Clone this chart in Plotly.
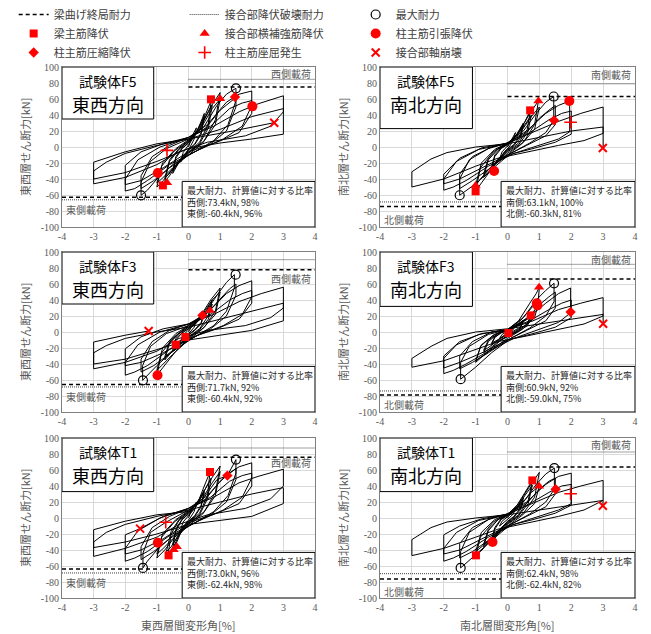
import plotly.graph_objects as go

# ------------------------------------------------------------------ data
PANEL_KEYS = ["F5_EW", "F5_NS", "F3_EW", "F3_NS", "T1_EW", "T1_NS"]
SPECIMEN = ["試験体F5", "試験体F5", "試験体F3", "試験体F3", "試験体T1", "試験体T1"]
DIRECTION = ["東西方向", "南北方向", "東西方向", "南北方向", "東西方向", "南北方向"]
Y_TITLES = ["東西層せん断力[kN]", "南北層せん断力[kN]"]
X_TITLES = ["東西層間変形角[%]", "南北層間変形角[%]"]
POS_SIDE = ["西側", "南側", "西側", "南側", "西側", "南側"]
NEG_SIDE = ["東側", "北側", "東側", "北側", "東側", "北側"]
BOX_TITLE = "最大耐力、計算値に対する比率"

X_TICKS = [-4, -3, -2, -1, 0, 1, 2, 3, 4]
Y_TICKS = [-100, -80, -60, -40, -20, 0, 20, 40, 60, 80, 100]

BEAM_CAP_POS = [74.9, 63.1, 77.9, 66.2, 76.0, 63.7]
BEAM_CAP_NEG = [-62.9, -74.4, -65.7, -78.7, -63.7, -76.1]
JOINT_CAP_POS = [84.6, 79.0, 90.4, 84.6, 87.5, 82.5]
JOINT_CAP_NEG = [-66.0, -68.7, -68.7, -73.7, -68.7, -69.6]

MAX_POS = [73.4, 63.1, 71.7, 60.9, 73.0, 62.4]
MAX_NEG = [-60.4, -60.3, -60.4, -59.0, -62.4, -62.4]
MAX_POS_DRIFT = [1.5, 1.45, 1.49, 1.46, 1.5, 1.47]
MAX_NEG_DRIFT = [-1.5, -1.5, -1.44, -1.47, -1.44, -1.47]
RATIO_POS = [98, 100, 92, 92, 96, 98]
RATIO_NEG = [96, 81, 92, 75, 98, 82]

BEAM_YIELD = {
    "F5_EW": [(0.71, 59.6), (-0.81, -48)],
    "F5_NS": [(0.71, 45.8), (-1.0, -55.4)],
    "F3_EW": [(-0.1, -6.25), (-0.4, -15.8)],
    "F3_NS": [(0.73, 20.8), (0.03, -1.25)],
    "T1_EW": [(0.68, 57.5), (-0.63, -46.7)],
    "T1_NS": [(0.78, 47), (-0.99, -46.7)],
}
HOOP_YIELD = {
    "F5_EW": [(1.0, 60.4), (-0.68, -44.6)],
    "F5_NS": [(0.97, 57.5), (-1.0, -48)],
    "F3_EW": [(0.68, 27)],
    "F3_NS": [(0.99, 56)],
    "T1_EW": [(-0.47, -39.6), (-0.37, -36)],
    "T1_NS": [(0.99, 39.6)],
}
COL_TENSION = {
    "F5_EW": [(2.02, 50.8), (-0.97, -32.5)],
    "F5_NS": [(1.94, 57.5), (-0.42, -30)],
    "F3_EW": [(-0.98, -54)],
    "F3_NS": [(0.94, 33.3), (0.92, 36)],
    "T1_EW": [(-0.97, -31)],
    "T1_NS": [(-0.47, -30)],
}
COL_COMPRESSION = {
    "F5_EW": [(1.47, 62.5)],
    "F5_NS": [(1.46, 33.3)],
    "F3_EW": [(0.44, 20.8)],
    "F3_NS": [(1.98, 25)],
    "T1_EW": [(1.23, 53)],
    "T1_NS": [(1.51, 36)],
}
COL_BUCKLING = {
    "F5_EW": [(-0.68, -4.2)],
    "F5_NS": [(1.98, 31)],
    "F3_EW": [],
    "F3_NS": [],
    "T1_EW": [(-0.72, -5.4)],
    "T1_NS": [(1.98, 30.4)],
}
AXIAL_COLLAPSE = {
    "F5_EW": [(2.71, 30.4)],
    "F5_NS": [(2.99, -1.25)],
    "F3_EW": [(-1.26, 1.25)],
    "F3_NS": [(3.0, 10.4)],
    "T1_EW": [(-1.53, -13.3)],
    "T1_NS": [(2.99, 15.4)],
}

LOOP_F5_EW = [
    (0, 0), (0.12, 14), (0.25, 24), (0.18, 10), (0.05, 0), (-0.1, -9), (-0.25, -19), (-0.17, -7), (-0.04, 1),
    (0.2, 14), (0.38, 30), (0.5, 42), (0.4, 18), (0.2, 4), (0, -3), (-0.22, -14), (-0.4, -26), (-0.5, -33), (-0.4, -14), (-0.2, -2), (0, 5),
    (0.22, 16), (0.42, 32), (0.5, 38), (0.4, 16), (0.2, 3), (0, -4), (-0.25, -15), (-0.42, -26), (-0.5, -30), (-0.4, -12), (-0.2, -1), (0, 5),
    (0.3, 22), (0.55, 42), (0.72, 58), (0.62, 28), (0.35, 6), (0, -6), (-0.35, -20), (-0.6, -36), (-0.75, -43), (-0.6, -18), (-0.3, -3), (0, 7),
    (0.32, 20), (0.58, 40), (0.75, 52), (0.63, 24), (0.35, 4), (0, -7), (-0.38, -22), (-0.62, -34), (-0.75, -39), (-0.6, -16), (-0.3, -2), (0, 7),
    (0.35, 24), (0.7, 50), (0.9, 62), (1.0, 68), (0.85, 34), (0.5, 8), (0, -8), (-0.4, -22), (-0.8, -42), (-1.0, -50), (-0.85, -24), (-0.45, -5), (0, 8),
    (0.4, 24), (0.75, 48), (1.0, 60), (0.85, 28), (0.45, 5), (0, -10), (-0.5, -26), (-0.85, -40), (-1.0, -45), (-0.82, -20), (-0.4, -2), (0, 9),
    (0.5, 26), (0.9, 52), (1.2, 66), (1.5, 73.4), (1.5, 58), (1.25, 28), (0.8, 8), (0.2, -6), (-0.5, -22), (-1.0, -40), (-1.3, -54), (-1.5, -60.4), (-1.5, -44), (-1.2, -18), (-0.7, -2), (0, 10),
    (0.55, 24), (1.0, 46), (1.3, 56), (1.5, 62), (1.5, 50), (1.2, 20), (0.7, 4), (0, -10), (-0.6, -26), (-1.1, -42), (-1.5, -52), (-1.5, -36), (-1.15, -12), (-0.6, 2), (0, 12),
    (0.6, 28), (1.2, 56), (1.6, 66), (2.0, 70), (2.0, 52), (1.7, 26), (1.1, 10), (0.3, -4), (-0.6, -22), (-1.3, -42), (-1.7, -52), (-2.0, -55), (-2.0, -40), (-1.6, -16), (-0.9, 0), (0, 12),
    (0.7, 26), (1.3, 48), (1.7, 55), (2.0, 58), (2.0, 42), (1.6, 18), (0.9, 6), (0, -6), (-0.8, -26), (-1.5, -42), (-2.0, -47), (-2.0, -23), (-1.5, -6), (-0.8, 4), (0, 12),
    (0.8, 26), (1.6, 44), (2.2, 54), (3.0, 64), (3.0, 44), (2.6, 26), (1.8, 14), (0.6, 6), (-0.3, -6), (-1.0, -22), (-2.0, -38), (-3.0, -46), (-3.0, -30), (-2.6, -19), (-2.0, -8), (-1.0, 2), (0, 10),
    (1.0, 22), (2.0, 38), (3.0, 48), (3.0, 16), (2.0, 10), (1.0, 5), (0, -2), (-1.0, -18), (-2.0, -32), (-3.0, -40), (-3.0, -19), (-2.0, -6), (-1.0, 4), (0, 10), (1.4, 20), (2.71, 30.4),
]
LOOP_F5_NS = [
    (0, 0), (0.1, 8), (0.25, 18), (0.18, 8), (0.05, 0), (-0.1, -6), (-0.25, -15), (-0.17, -6), (-0.04, 0),
    (0.2, 10), (0.38, 22), (0.5, 30), (0.4, 14), (0.2, 3), (0, -3), (-0.22, -12), (-0.4, -22), (-0.5, -28), (-0.4, -12), (-0.2, -2), (0, 3),
    (0.22, 12), (0.42, 22), (0.5, 27), (0.4, 11), (0.2, 2), (0, -4), (-0.25, -13), (-0.42, -22), (-0.5, -25), (-0.4, -10), (-0.2, -1), (0, 3),
    (0.3, 16), (0.55, 32), (0.72, 46), (0.62, 22), (0.35, 5), (0, -5), (-0.35, -18), (-0.6, -32), (-0.75, -38), (-0.6, -16), (-0.3, -3), (0, 4),
    (0.32, 16), (0.58, 30), (0.75, 40), (0.63, 18), (0.35, 3), (0, -6), (-0.38, -20), (-0.62, -30), (-0.75, -34), (-0.6, -14), (-0.3, -2), (0, 4),
    (0.35, 18), (0.7, 42), (0.97, 57.5), (0.85, 28), (0.5, 6), (0, -8), (-0.4, -22), (-0.8, -44), (-1.0, -55), (-0.85, -26), (-0.45, -6), (0, 5),
    (0.4, 18), (0.75, 38), (1.0, 50), (0.85, 22), (0.45, 4), (0, -10), (-0.5, -24), (-0.85, -40), (-1.0, -48), (-0.82, -20), (-0.4, -3), (0, 5),
    (0.5, 20), (0.9, 42), (1.2, 56), (1.45, 63.1), (1.45, 33), (1.2, 18), (0.7, 5), (0.1, -8), (-0.5, -28), (-1.0, -46), (-1.3, -55), (-1.5, -60.3), (-1.5, -40), (-1.2, -16), (-0.6, -2), (0, 5),
    (0.6, 18), (1.0, 36), (1.3, 46), (1.5, 52), (1.5, 28), (1.2, 14), (0.6, 2), (0, -10), (-0.6, -28), (-1.1, -42), (-1.5, -52), (-1.5, -34), (-1.1, -12), (-0.5, 0), (0, 5),
    (0.6, 20), (1.2, 42), (1.6, 52), (1.95, 57.5), (1.95, 19), (1.6, 10), (1.0, 2), (0.2, -8), (-0.6, -24), (-1.3, -42), (-1.7, -50), (-2.0, -54), (-2.0, -40), (-1.6, -18), (-0.9, -3), (0, 4),
    (0.7, 18), (1.3, 34), (1.7, 42), (2.0, 45), (2.0, 16), (1.5, 6), (0.8, -2), (0, -10), (-0.8, -26), (-1.5, -40), (-2.0, -46), (-2.0, -34), (-1.5, -14), (-0.8, -1), (0, 5),
    (0.8, 18), (1.6, 32), (2.3, 42), (3.0, 50), (3.0, 17), (2.4, 8), (1.6, 2), (0.6, -6), (-0.3, -14), (-1.0, -24), (-2.0, -40), (-3.0, -50), (-3.0, -31), (-2.4, -15), (-1.9, -7), (-1.0, 0), (0, 4),
    (1.0, 12), (2.0, 20), (3.0, 25), (3.0, -1.25),
]
LOOP_F3_EW = [
    (0, 0), (0.1, 7), (0.25, 15), (0.18, 6), (0.05, 0), (-0.1, -5), (-0.25, -12), (-0.17, -4), (-0.04, 1),
    (0.2, 10), (0.44, 21), (0.5, 26), (0.4, 12), (0.2, 3), (0, -3), (-0.1, -6.25), (-0.4, -16), (-0.5, -22), (-0.4, -10), (-0.2, -1), (0, 4),
    (0.22, 10), (0.42, 19), (0.5, 23), (0.4, 10), (0.2, 2), (0, -4), (-0.25, -10), (-0.42, -17), (-0.5, -20), (-0.4, -8), (-0.2, -1), (0, 4),
    (0.3, 14), (0.55, 26), (0.75, 40), (0.62, 20), (0.35, 4), (0, -6), (-0.35, -18), (-0.6, -28), (-0.75, -35), (-0.6, -14), (-0.3, -2), (0, 6),
    (0.32, 14), (0.58, 26), (0.75, 35), (0.63, 16), (0.35, 3), (0, -7), (-0.38, -19), (-0.62, -27), (-0.75, -31), (-0.6, -12), (-0.3, -2), (0, 6),
    (0.35, 18), (0.7, 40), (0.9, 50), (1.0, 55), (0.85, 26), (0.5, 6), (0, -8), (-0.4, -24), (-0.8, -44), (-1.0, -54), (-0.85, -26), (-0.45, -6), (0, 8),
    (0.4, 20), (0.75, 40), (1.0, 50), (0.85, 22), (0.45, 4), (0, -10), (-0.5, -28), (-0.85, -42), (-1.0, -48), (-0.82, -20), (-0.4, -2), (0, 8),
    (0.5, 22), (0.9, 46), (1.2, 62), (1.45, 71.7), (1.45, 55), (1.2, 26), (0.8, 8), (0.2, -6), (-0.5, -24), (-1.0, -42), (-1.3, -54), (-1.45, -60.4), (-1.45, -42), (-1.2, -18), (-0.7, -2), (0, 8),
    (0.55, 22), (1.0, 42), (1.3, 54), (1.5, 60), (1.5, 46), (1.2, 20), (0.7, 4), (0, -10), (-0.6, -28), (-1.1, -42), (-1.5, -50), (-1.5, -34), (-1.15, -12), (-0.6, 2), (0, 10),
    (0.6, 24), (1.2, 48), (1.6, 58), (2.0, 64), (2.0, 44), (1.7, 22), (1.1, 8), (0.3, -4), (-0.6, -22), (-1.3, -42), (-1.7, -50), (-2.0, -54), (-2.0, -38), (-1.6, -16), (-0.9, 0), (0, 10),
    (0.7, 22), (1.3, 40), (1.7, 48), (2.0, 52), (2.0, 36), (1.6, 16), (0.9, 4), (0, -8), (-0.8, -26), (-1.5, -38), (-2.0, -42), (-2.0, -21), (-1.5, -6), (-0.8, 4), (0, 10),
    (0.8, 22), (1.6, 38), (2.3, 48), (3.0, 56), (3.0, 30), (2.6, 18), (1.8, 8), (0.6, 2), (-0.3, -8), (-1.0, -24), (-2.0, -38), (-3.0, -46), (-3.0, -26), (-2.6, -17), (-2.0, -8), (-1.0, 0), (0, 6),
    (1.0, 16), (2.0, 26), (3.0, 36), (3.0, 14), (2.0, 2), (1.0, -4), (0, -10), (-1.0, -22), (-2.0, -34), (-3.0, -40), (-3.0, -12.5), (-2.0, -4), (-1.26, 1.25),
]
LOOP_F3_NS = [
    (0, 0), (0.1, 4), (0.25, 8), (0.18, 3), (0.05, 0), (-0.1, -4), (-0.25, -8), (-0.17, -3), (-0.04, 0),
    (0.03, -1.25), (0.2, 6), (0.4, 12), (0.5, 15), (0.4, 6), (0.2, 1), (0, -3), (-0.22, -8), (-0.4, -13), (-0.5, -16), (-0.4, -7), (-0.2, -1), (0, 2),
    (0.22, 6), (0.42, 11), (0.5, 13), (0.4, 5), (0.2, 0), (0, -3), (-0.25, -8), (-0.42, -12), (-0.5, -14), (-0.4, -6), (-0.2, -1), (0, 2),
    (0.3, 8), (0.55, 16), (0.73, 21), (0.62, 10), (0.35, 2), (0, -5), (-0.35, -14), (-0.6, -22), (-0.75, -26), (-0.6, -12), (-0.3, -2), (0, 3),
    (0.32, 8), (0.58, 15), (0.75, 19), (0.63, 8), (0.35, 1), (0, -5), (-0.38, -13), (-0.62, -20), (-0.75, -23), (-0.6, -10), (-0.3, -2), (0, 3),
    (0.35, 14), (0.7, 36), (0.9, 48), (1.0, 56), (0.95, 33), (0.6, 10), (0.2, -2), (-0.2, -10), (-0.6, -24), (-0.9, -34), (-1.0, -38), (-0.85, -18), (-0.45, -4), (0, 3),
    (0.4, 14), (0.75, 30), (1.0, 40), (0.85, 18), (0.45, 3), (0, -8), (-0.5, -22), (-0.85, -32), (-1.0, -36), (-0.82, -16), (-0.4, -3), (0, 3),
    (0.5, 18), (0.9, 40), (1.2, 52), (1.46, 60.9), (1.46, 38), (1.2, 20), (0.7, 5), (0.1, -8), (-0.5, -26), (-1.0, -44), (-1.3, -54), (-1.47, -59.0), (-1.47, -38), (-1.2, -18), (-0.6, -3), (0, 3),
    (0.6, 16), (1.0, 34), (1.3, 44), (1.5, 50), (1.5, 30), (1.2, 14), (0.6, 2), (0, -10), (-0.6, -26), (-1.1, -38), (-1.5, -46), (-1.5, -30), (-1.1, -12), (-0.5, 0), (0, 3),
    (0.6, 16), (1.2, 36), (1.6, 48), (1.98, 55), (1.98, 24), (1.6, 12), (1.0, 3), (0.2, -8), (-0.6, -24), (-1.3, -40), (-1.7, -48), (-2.0, -52), (-2.0, -33), (-1.6, -16), (-0.9, -3), (0, 3),
    (0.7, 14), (1.3, 28), (1.7, 36), (2.0, 40), (2.0, 18), (1.5, 6), (0.8, -2), (0, -10), (-0.8, -26), (-1.5, -38), (-2.0, -45), (-2.0, -30), (-1.5, -12), (-0.8, -2), (0, 3),
    (0.8, 14), (1.6, 28), (2.3, 36), (3.0, 43), (3.0, 20), (2.4, 10), (1.6, 3), (0.6, -5), (-0.3, -12), (-1.0, -22), (-2.0, -36), (-3.0, -44), (-3.0, -33), (-2.4, -18), (-1.9, -8), (-1.0, 0), (0, 4),
    (1.0, 10), (2.0, 16), (3.0, 22), (3.0, 10.4),
]
LOOP_T1_EW = [
    (0, 0), (0.1, 10), (0.25, 20), (0.18, 8), (0.05, 0), (-0.1, -7), (-0.25, -15), (-0.17, -5), (-0.04, 1),
    (0.2, 12), (0.38, 26), (0.5, 35), (0.4, 16), (0.2, 3), (0, -4), (-0.22, -16), (-0.37, -30), (-0.5, -38), (-0.4, -16), (-0.2, -2), (0, 5),
    (0.22, 13), (0.42, 27), (0.5, 32), (0.4, 14), (0.2, 2), (0, -5), (-0.25, -16), (-0.42, -28), (-0.5, -33), (-0.4, -14), (-0.2, -1), (0, 5),
    (0.3, 20), (0.5, 40), (0.68, 57.5), (0.6, 28), (0.35, 6), (0, -6), (-0.3, -22), (-0.5, -38), (-0.65, -47), (-0.55, -20), (-0.3, -3), (0, 7),
    (0.32, 20), (0.58, 40), (0.72, 50), (0.6, 24), (0.35, 4), (0, -7), (-0.32, -22), (-0.55, -36), (-0.7, -42), (-0.55, -17), (-0.3, -2), (0, 7),
    (0.35, 24), (0.7, 48), (0.9, 60), (1.0, 65), (0.85, 32), (0.5, 8), (0, -8), (-0.4, -22), (-0.75, -40), (-1.0, -50), (-0.85, -24), (-0.45, -5), (0, 8),
    (0.4, 22), (0.75, 44), (1.0, 58), (0.85, 28), (0.45, 5), (0, -10), (-0.5, -26), (-0.85, -40), (-1.0, -45), (-0.82, -20), (-0.4, -2), (0, 9),
    (0.5, 26), (0.9, 48), (1.23, 53), (1.5, 73), (1.5, 56), (1.25, 28), (0.8, 8), (0.2, -6), (-0.5, -22), (-1.0, -40), (-1.3, -54), (-1.44, -62.4), (-1.44, -44), (-1.2, -18), (-0.72, -5.4), (0, 10),
    (0.55, 24), (1.0, 46), (1.3, 56), (1.5, 62), (1.5, 48), (1.2, 20), (0.7, 4), (0, -10), (-0.6, -26), (-1.1, -42), (-1.5, -52), (-1.5, -36), (-1.15, -12), (-0.6, 2), (0, 12),
    (0.6, 28), (1.2, 54), (1.6, 64), (2.0, 69), (2.0, 50), (1.7, 26), (1.1, 10), (0.3, -4), (-0.6, -22), (-1.3, -42), (-1.7, -50), (-2.0, -54), (-2.0, -38), (-1.6, -16), (-0.9, 0), (0, 12),
    (0.7, 26), (1.3, 46), (1.7, 53), (2.0, 56), (2.0, 40), (1.6, 18), (0.9, 6), (0, -6), (-0.8, -26), (-1.5, -40), (-2.0, -45), (-2.0, -21), (-1.53, -13.3), (-0.8, 2), (0, 12),
    (0.8, 26), (1.6, 44), (2.2, 52), (3.0, 61), (3.0, 40), (2.6, 24), (1.8, 12), (0.6, 4), (-0.3, -8), (-1.0, -24), (-2.0, -38), (-3.0, -48), (-3.0, -30), (-2.6, -18), (-2.0, -8), (-1.0, 2), (0, 10),
    (1.0, 20), (2.0, 30), (3.0, 38), (3.0, 18), (2.0, 2), (1.0, -3), (0, -8), (-1.0, -20), (-2.0, -30), (-3.0, -37), (-3.0, -14.6), (-2.0, -4), (-1.0, 4), (0, 8),
]
LOOP_T1_NS = [
    (0, 0), (0.1, 6), (0.25, 12), (0.18, 5), (0.05, 0), (-0.1, -5), (-0.25, -10), (-0.17, -4), (-0.04, 0),
    (0.2, 8), (0.38, 18), (0.5, 25), (0.4, 12), (0.2, 2), (0, -4), (-0.22, -14), (-0.47, -30), (-0.5, -32), (-0.4, -14), (-0.2, -2), (0, 3),
    (0.22, 9), (0.42, 19), (0.5, 22), (0.4, 10), (0.2, 1), (0, -5), (-0.25, -14), (-0.42, -25), (-0.5, -28), (-0.4, -12), (-0.2, -1), (0, 3),
    (0.3, 16), (0.55, 32), (0.78, 47), (0.65, 22), (0.35, 4), (0, -6), (-0.35, -18), (-0.6, -30), (-0.75, -36), (-0.6, -16), (-0.3, -2), (0, 4),
    (0.32, 15), (0.58, 30), (0.78, 41), (0.65, 18), (0.35, 3), (0, -7), (-0.38, -19), (-0.62, -29), (-0.75, -33), (-0.6, -14), (-0.3, -2), (0, 4),
    (0.35, 18), (0.7, 40), (0.9, 52), (1.0, 57), (0.85, 26), (0.5, 6), (0, -8), (-0.4, -22), (-0.8, -40), (-0.99, -46.7), (-0.85, -24), (-0.45, -5), (0, 5),
    (0.4, 16), (0.75, 32), (1.0, 40), (0.85, 18), (0.45, 3), (0, -10), (-0.5, -26), (-0.85, -38), (-1.0, -42), (-0.82, -18), (-0.4, -2), (0, 5),
    (0.5, 20), (0.9, 42), (1.2, 55), (1.47, 62.4), (1.47, 36), (1.2, 20), (0.7, 5), (0.1, -8), (-0.5, -28), (-1.0, -46), (-1.3, -56), (-1.47, -62.4), (-1.47, -42), (-1.2, -18), (-0.6, -2), (0, 5),
    (0.6, 18), (1.0, 36), (1.3, 46), (1.5, 50), (1.5, 30), (1.2, 14), (0.6, 2), (0, -10), (-0.6, -28), (-1.1, -42), (-1.5, -50), (-1.5, -32), (-1.1, -12), (-0.5, 0), (0, 5),
    (0.6, 20), (1.2, 42), (1.6, 52), (2.0, 56), (2.0, 18), (1.6, 10), (1.0, 2), (0.2, -8), (-0.6, -24), (-1.3, -42), (-1.7, -50), (-2.0, -54), (-2.0, -38), (-1.6, -18), (-0.9, -3), (0, 4),
    (0.7, 18), (1.3, 32), (1.7, 40), (2.0, 42), (2.0, 16), (1.5, 6), (0.8, -2), (0, -10), (-0.8, -26), (-1.5, -40), (-2.0, -45), (-2.0, -21), (-1.5, -10), (-0.8, -1), (0, 5),
    (0.8, 18), (1.6, 32), (2.3, 40), (3.0, 47), (3.0, 22), (2.4, 10), (1.6, 2), (0.6, -6), (-0.3, -14), (-1.0, -24), (-2.0, -38), (-3.0, -47), (-3.0, -27), (-2.4, -12), (-1.9, -5), (-1.0, 0), (0, 4),
    (1.0, 10), (2.0, 16), (3.0, 22), (2.99, 15.4),
]
LOOPS = {"F5_EW": LOOP_F5_EW, "F5_NS": LOOP_F5_NS, "F3_EW": LOOP_F3_EW,
         "F3_NS": LOOP_F3_NS, "T1_EW": LOOP_T1_EW, "T1_NS": LOOP_T1_NS}

# ------------------------------------------------------------------ layout / style
W, H = 651, 634
COL_PX = [(62, 315), (380, 635)]
ROW_PX = [(67, 227), (252, 412), (438, 598)]
NAME_BOX_BOTTOM = [35, 23, 35, 32, 33, 33]
POS_LABEL_Y = [91.7, 90.4, 66.7, 90.4, 68.8, 91.7]
NEG_LABEL_Y = [-78, -90.4, -80, -90.4, -81, -91.7]

JP = "Noto Sans CJK JP"
SERIF = "Liberation Serif"
GRAY = "#595959"
RED = "#ff0000"

MARKER_SETS = [
    ("梁主筋降伏", BEAM_YIELD, dict(symbol="square", size=8, color=RED)),
    ("接合部横補強筋降伏", HOOP_YIELD, dict(symbol="triangle-up", size=9, color=RED)),
    ("柱主筋引張降伏", COL_TENSION, dict(symbol="circle", size=10, color=RED)),
    ("柱主筋圧縮降伏", COL_COMPRESSION, dict(symbol="diamond", size=8, color=RED)),
    ("柱主筋座屈発生", COL_BUCKLING, dict(symbol="cross-thin", size=9, color=RED, line=dict(color=RED, width=1.6))),
    ("接合部軸崩壊", AXIAL_COLLAPSE, dict(symbol="x-thin", size=8, color=RED, line=dict(color=RED, width=2))),
]

fig = go.Figure()
annotations = []
shapes = []

for i, key in enumerate(PANEL_KEYS):
    r, c = divmod(i, 2)
    n = i + 1
    xr = "x" if n == 1 else f"x{n}"
    yr = "y" if n == 1 else f"y{n}"
    first = i == 0

    lx = [p[0] for p in LOOPS[key]]
    ly = [p[1] for p in LOOPS[key]]
    fig.add_trace(go.Scatter(x=lx, y=ly, mode="lines", xaxis=xr, yaxis=yr,
                             line=dict(color="black", width=1), showlegend=False,
                             hoverinfo="skip"))

    fig.add_trace(go.Scatter(x=[0, 4, None, -4, 0],
                             y=[BEAM_CAP_POS[i], BEAM_CAP_POS[i], None, BEAM_CAP_NEG[i], BEAM_CAP_NEG[i]],
                             mode="lines", xaxis=xr, yaxis=yr, name="梁曲げ終局耐力",
                             line=dict(color="black", width=1.5, dash="4px,3px"),
                             showlegend=first, legendrank=1))
    fig.add_trace(go.Scatter(x=[0, 4, None, -4, 0],
                             y=[JOINT_CAP_POS[i], JOINT_CAP_POS[i], None, JOINT_CAP_NEG[i], JOINT_CAP_NEG[i]],
                             mode="lines", xaxis=xr, yaxis=yr, name="接合部降伏破壊耐力",
                             line=dict(color="#404040", width=1, dash="1px,1px"),
                             showlegend=first, legendrank=2))
    fig.add_trace(go.Scatter(x=[MAX_POS_DRIFT[i], MAX_NEG_DRIFT[i]], y=[MAX_POS[i], MAX_NEG[i]],
                             mode="markers", xaxis=xr, yaxis=yr, name="最大耐力",
                             marker=dict(symbol="circle-open", size=9, color="black",
                                         line=dict(color="black", width=1.2)),
                             showlegend=first, legendrank=3))
    for k, (nm, dct, mk) in enumerate(MARKER_SETS):
        pts = dct[key]
        fig.add_trace(go.Scatter(x=[p[0] for p in pts] or [None], y=[p[1] for p in pts] or [None],
                                 mode="markers", xaxis=xr, yaxis=yr, name=nm, marker=mk,
                                 showlegend=first, legendrank=4 + k))

    x0, x1 = COL_PX[c]
    y0, y1 = ROW_PX[r]
    common = dict(showgrid=True, gridcolor="#d9d9d9", gridwidth=1, zeroline=False,
                  showline=True, mirror=True, linecolor="#7f7f7f", linewidth=1,
                  ticks="", tickfont=dict(family=SERIF, size=10, color=GRAY))
    fig.layout[f"xaxis{'' if n == 1 else n}"] = dict(
        domain=[x0 / W, x1 / W], anchor=yr, range=[-4, 4],
        tickvals=X_TICKS, ticktext=[str(v) for v in X_TICKS], **common)
    fig.layout[f"yaxis{'' if n == 1 else n}"] = dict(
        domain=[1 - y1 / H, 1 - y0 / H], anchor=xr, range=[-100, 100],
        tickvals=Y_TICKS, ticktext=[str(v) for v in Y_TICKS], **common)

    shapes.append(dict(type="rect", xref=xr, yref=yr, x0=-4, x1=-1.1, y0=NAME_BOX_BOTTOM[i], y1=100,
                       fillcolor="white", line=dict(color="black", width=1), layer="above"))
    annotations.append(dict(xref=xr, yref=yr, x=-2.55, y=83, text=SPECIMEN[i], showarrow=False,
                            xanchor="center", yanchor="middle",
                            font=dict(family=JP, size=14, color="black")))
    annotations.append(dict(xref=xr, yref=yr, x=-2.55, y=54, text=DIRECTION[i], showarrow=False,
                            xanchor="center", yanchor="middle",
                            font=dict(family=JP, size=18, color="black")))
    shapes.append(dict(type="rect", xref=xr, yref=yr, x0=-0.2, x1=4, y0=-100, y1=-43,
                       fillcolor="white", line=dict(color="black", width=1), layer="above"))
    box_text = "<br>".join([BOX_TITLE,
                            f"{POS_SIDE[i]}:{MAX_POS[i]:.1f}kN, {RATIO_POS[i]}%",
                            f"{NEG_SIDE[i]}:{MAX_NEG[i]:.1f}kN, {RATIO_NEG[i]}%"])
    annotations.append(dict(xref=xr, yref=yr, x=-0.1, y=-69, text=box_text, showarrow=False,
                            xanchor="left", yanchor="middle", align="left",
                            font=dict(family=JP, size=9, color="#262626")))
    annotations.append(dict(xref=xr, yref=yr, x=4, y=POS_LABEL_Y[i], text=POS_SIDE[i] + "載荷",
                            showarrow=False, xanchor="right", yanchor="middle", xshift=-2,
                            font=dict(family=JP, size=10, color=GRAY)))
    annotations.append(dict(xref=xr, yref=yr, x=-4, y=NEG_LABEL_Y[i], text=NEG_SIDE[i] + "載荷",
                            showarrow=False, xanchor="left", yanchor="middle", xshift=2,
                            font=dict(family=JP, size=10, color=GRAY)))

for r in range(3):
    yc = 1 - (ROW_PX[r][0] + ROW_PX[r][1]) / 2 / H
    for c, xp in enumerate([25, 343]):
        annotations.append(dict(xref="paper", yref="paper", x=xp / W, y=yc, text=Y_TITLES[c],
                                textangle=-90, showarrow=False, xanchor="center", yanchor="middle",
                                font=dict(family=JP, size=11, color=GRAY)))
for c in range(2):
    xc = (COL_PX[c][0] + COL_PX[c][1]) / 2 / W
    annotations.append(dict(xref="paper", yref="paper", x=xc, y=1 - 625 / H, text=X_TITLES[c],
                            showarrow=False, xanchor="center", yanchor="middle",
                            font=dict(family=JP, size=11, color=GRAY)))

fig.update_layout(
    width=W, height=H, margin=dict(l=0, r=0, t=0, b=0, autoexpand=False),
    paper_bgcolor="white", plot_bgcolor="white",
    annotations=annotations, shapes=shapes,
    legend=dict(orientation="h", x=0.021, y=1.0, xanchor="left", yanchor="top",
                entrywidth=126, entrywidthmode="pixels", itemwidth=30,
                font=dict(family=JP, size=11, color="#404040"),
                bgcolor="rgba(0,0,0,0)", tracegroupgap=0, traceorder="normal"),
)

fig.write_html("out.html")
